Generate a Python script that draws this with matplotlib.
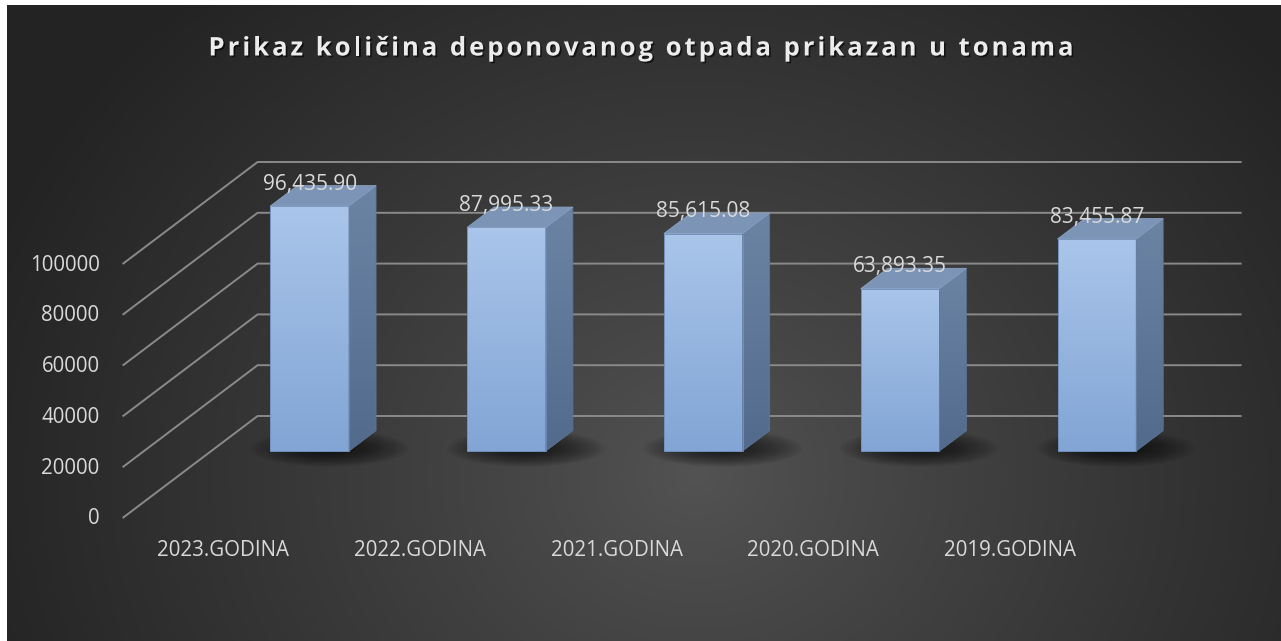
import numpy as np
import matplotlib
matplotlib.use('Agg')
import matplotlib.pyplot as plt
from matplotlib.patches import Polygon, Ellipse
from matplotlib.font_manager import FontProperties
import matplotlib.patheffects as pe

# ---------------- data ----------------
categories = ['2023.GODINA', '2022.GODINA', '2021.GODINA', '2020.GODINA', '2019.GODINA']
values = [96435.90, 87995.33, 85615.08, 63893.35, 83455.87]
value_labels = ['96,435.90', '87,995.33', '85,615.08', '63,893.35', '83,455.87']
y_ticks = [0, 20000, 40000, 60000, 80000, 100000]
y_tick_labels = ['0', '20000', '40000', '60000', '80000', '100000']
title = 'Prikaz količina deponovanog otpada prikazan u tonama'

# ---------------- layout ----------------
W, H = 1281, 641
fig = plt.figure(figsize=(W / 100, H / 100), dpi=100, facecolor='white')

# background with radial gradient
bg = fig.add_axes([7 / W, 0, (W - 7) / W, (H - 5) / H])
bg.axis('off')
bh, bw = H - 5, W - 7
yy, xx = np.mgrid[0:bh, 0:bw]
cx, cy = 690, 470
r = np.hypot(xx - cx, (yy - cy) * 1.15)
t = np.clip(r / 760, 0, 1) ** 0.9
c0 = np.array([0x53, 0x53, 0x53]) / 255
c1 = np.array([0x23, 0x23, 0x23]) / 255
img = c0 + (c1 - c0) * t[..., None]
bg.imshow(img, extent=[0, 1, 0, 1], aspect='auto', origin='upper')
bg.set_xlim(0, 1)
bg.set_ylim(0, 1)

ax = fig.add_axes([0, 0, 1, 1])
ax.patch.set_alpha(0)
ax.axis('off')
PX = 196.8      # pixels per category
PV = 0.00254    # pixels per value unit
X0 = 221
Y0 = H - 518
ax.set_xlim(-X0 / PX, (W - X0) / PX)
ax.set_ylim(-Y0 / PV, (H - Y0) / PV)
ax.set_autoscale_on(False)

DX = 135 / PX
DV = 102 / PV


def P(x, v, z):
    return (x + z * DX, v + z * DV)


# ---------------- walls / gridlines ----------------
xl, xr = -0.5, len(categories) - 0.5
grid_col = '#8a8a8a'
for v in y_ticks:
    a = P(xl, v, 0)
    b = P(xl, v, 1)
    c = P(xr, v, 1)
    ax.plot([a[0], b[0], c[0]], [a[1], b[1], c[1]], color=grid_col, lw=1.4,
            solid_capstyle='butt', zorder=1)

# ---------------- bars ----------------
z0, z1 = 0.657, 0.857
hw = 0.2
front_top = np.array([0xa9, 0xc5, 0xea]) / 255
front_bot = np.array([0x82, 0xa5, 0xd5]) / 255
side_top = np.array([0x6c, 0x84, 0xa4]) / 255
side_bot = np.array([0x52, 0x6b, 0x8d]) / 255
top_col = '#7c95b7'
edge_col = '#7391bd'

grad = np.linspace(0, 1, 256)[:, None, None]
front_img = front_top + (front_bot - front_top) * grad
side_img = side_top + (side_bot - side_top) * grad

for i, val in enumerate(values):
    # soft shadow on the floor
    sc = P(i + 0.03, -3000, 0.757)
    for k in range(14):
        s = 1.0 - k * 0.06
        ax.add_patch(Ellipse(sc, 2 * 0.40 * s, 2 * 7200 * s, facecolor='black',
                             edgecolor='none', alpha=0.06, zorder=2))
    # front face
    fx0, fy0 = P(i - hw, 0, z0)
    fx1, fy1 = P(i + hw, val, z0)
    ax.imshow(front_img, extent=[fx0, fx1, fy0, fy1], aspect='auto',
              origin='upper', zorder=3, interpolation='bilinear')
    ax.add_patch(Polygon([P(i - hw, 0, z0), P(i + hw, 0, z0), P(i + hw, val, z0),
                          P(i - hw, val, z0)], closed=True, facecolor='none',
                         edgecolor=edge_col, lw=0.7, zorder=4))
    # side face
    side = [P(i + hw, 0, z0), P(i + hw, val, z0), P(i + hw, val, z1), P(i + hw, 0, z1)]
    sp = Polygon(side, closed=True, facecolor='none', edgecolor='#5d7597', lw=0.6, zorder=4)
    ax.add_patch(sp)
    sxs = [p[0] for p in side]
    sys_ = [p[1] for p in side]
    im = ax.imshow(side_img, extent=[min(sxs), max(sxs), min(sys_), max(sys_)],
                   aspect='auto', origin='upper', zorder=3, interpolation='bilinear')
    im.set_clip_path(sp)
    # top face
    top = [P(i - hw, val, z0), P(i + hw, val, z0), P(i + hw, val, z1), P(i - hw, val, z1)]
    ax.add_patch(Polygon(top, closed=True, facecolor=top_col, edgecolor='#8aa2c2',
                         lw=0.6, zorder=4))
    # data label
    lx = P(i, val, z0)[0]
    ly = P(i, val, z1)[1]
    ax.annotate(value_labels[i], (lx, ly), xytext=(0, -4), textcoords='offset pixels',
                ha='center', va='baseline', fontsize=15, family='Open Sans',
                color='#d9d9d9', zorder=6)

# ---------------- axis labels ----------------
for v, lab in zip(y_ticks, y_tick_labels):
    ax.annotate(lab, P(xl, v, 0), xytext=(-23, -1), textcoords='offset pixels',
                ha='right', va='center', fontsize=14.8, family='Open Sans',
                color='#d9d9d9', zorder=6)

for i, cat in enumerate(categories):
    ax.annotate(cat, P(i, 0, 0), xytext=(2, -33), textcoords='offset pixels',
                ha='center', va='center', fontsize=14.8, family='Open Sans',
                color='#d9d9d9', zorder=6)

# ---------------- title with letter spacing ----------------
renderer = fig.canvas.get_renderer()
fp = FontProperties(family='Open Sans', weight='bold', size=18.5)


def tw(s):
    w, h, d = renderer.get_text_width_height_descent(s, fp, ismath=False)
    return w


base = tw('ll')
adv = [tw('l' + ch + 'l') - base for ch in title]
target = 1075 - 210
spacing = (target - sum(adv)) / (len(title) - 1)
x = 641 - target / 2
ty = H - 48
shadow = [pe.SimplePatchShadow(offset=(1.2, -1.2), shadow_rgbFace='black', alpha=0.6), pe.Normal()]
for ch, a in zip(title, adv):
    fig.text(x / W, ty / H, ch, fontproperties=fp, color='#ececec', ha='left',
             va='center', path_effects=shadow)
    x += a + spacing

fig.savefig('out.png', dpi=100, facecolor='white')
